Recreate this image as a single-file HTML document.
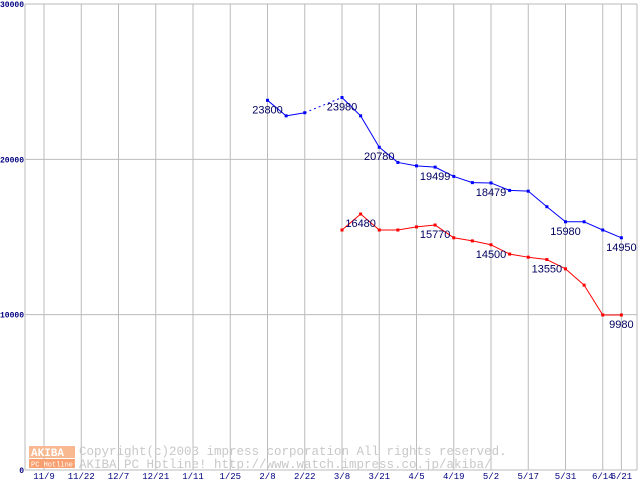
<!DOCTYPE html>
<html><head><meta charset="utf-8"><style>
html,body{margin:0;padding:0;background:#fff;}
svg{display:block;font-family:"Liberation Mono","DejaVu Sans Mono",monospace;}
</style></head><body>
<svg id="chart" width="640" height="480" viewBox="0 0 640 480" xmlns="http://www.w3.org/2000/svg">
<g id="grid"></g>
<g id="wm">
  <rect x="29" y="446" width="46" height="12" fill="#f8b890"/>
  <text x="31" y="456" font-size="11" fill="#fff" font-weight="bold">AKIBA</text>
  <rect x="29" y="459" width="46" height="9" fill="#f8a070"/>
  <text x="31" y="466.5" font-size="7" fill="#fff">PC Hotline!</text>
  <text x="79" y="455" font-size="12.5" fill="#c8c8c8">Copyright(c)2003 impress corporation All rights reserved.</text>
  <text x="79" y="468" font-size="12.5" fill="#c8c8c8">AKIBA PC Hotline!  http://www.watch.impress.co.jp/akiba/</text>
</g>
<g id="series"></g>
</svg>
<script>
const xLabels = ["11/9","11/22","12/7","12/21","1/11","1/25","2/8","2/22","3/8","3/21","4/5","4/19","5/2","5/17","5/31","6/14","6/21"];
const yTicks = [0,10000,20000,30000];
const blueValues = [null,null,null,null,null,null,null,null,null,null,null,null,23800,22800,23000,null,23980,22800,20780,19800,19580,19499,18900,18500,18479,18000,17950,16950,15980,15980,15450,14950];
const redValues = [null,null,null,null,null,null,null,null,null,null,null,null,null,null,null,null,15450,16480,15450,15450,15650,15770,14950,14750,14500,13900,13700,13550,12950,11900,9980,9980];
const blueLabelIdx = [12,16,18,21,24,28,31];
const redLabelIdx = [17,21,24,27,31];

const NS="http://www.w3.org/2000/svg";
const L=25,T=4,B=470,R=637,X0=44,STEP=37.25;
function yS(v){return B-(v/30000)*(B-T);}
function xS(i){return X0+i*STEP/2;}
function mk(tag,attrs,parent){const e=document.createElementNS(NS,tag);for(const k in attrs)e.setAttribute(k,attrs[k]);parent.appendChild(e);return e;}
const grid=document.getElementById('grid');
yTicks.forEach(v=>{
  const ln=mk('line',{x1:L,x2:R,y1:yS(v),y2:yS(v),stroke:'#bbb','stroke-width':1},grid);
  
  
  const t=mk('text',{x:24,y:yS(v)+3,'text-anchor':'end','font-size':8,'font-weight':'bold',fill:'#000080'},grid);
  t.textContent=v;
  
  
});
xLabels.forEach((lab,i)=>{
  const x= i<16 ? X0+i*STEP : X0+15.5*STEP;
  const ln=mk('line',{x1:x,x2:x,y1:T,y2:B,stroke:'#bbb','stroke-width':1},grid);
  
  
  const t=mk('text',{x:x,y:479,'text-anchor':'middle','font-size':9,fill:'#000080'},grid);
  t.textContent=lab;
  
  
});
[[L,L,T,B],[R,R,T,B]].forEach(a=>{
  const ln=mk('line',{x1:a[0],x2:a[1],y1:a[2],y2:a[3],stroke:'#bbb','stroke-width':1},grid);
  
  
});
const sl=document.getElementById('series');
function drawSeries(vals,color,labels,name){
  let prev=-1;
  for(let i=0;i<vals.length;i++){
    if(vals[i]==null)continue;
    if(prev>=0){
      const dashed=(i-prev)>1;
      const ln=mk('line',{x1:xS(prev),y1:yS(vals[prev]),x2:xS(i),y2:yS(vals[i]),stroke:color,'stroke-width':1},sl);
      if(dashed)ln.setAttribute('stroke-dasharray','2,3');
      
      
    }
    prev=i;
  }
  vals.forEach((v,i)=>{
    if(v==null)return;
    const r=mk('rect',{x:xS(i)-1.5,y:yS(v)-1.5,width:3,height:3,fill:color},sl);
    
    
  });
  labels.forEach(i=>{
    const t=mk('text',{x:xS(i),y:yS(vals[i])+13,'text-anchor':'middle','font-size':11,fill:'#000060','font-family':'"Liberation Sans",sans-serif'},sl);
    t.textContent=vals[i];
    
    
  });
}
drawSeries(blueValues,'#0000ff',blueLabelIdx,'blue-series');
drawSeries(redValues,'#ff0000',redLabelIdx,'red-series');
</script>
</body></html>
